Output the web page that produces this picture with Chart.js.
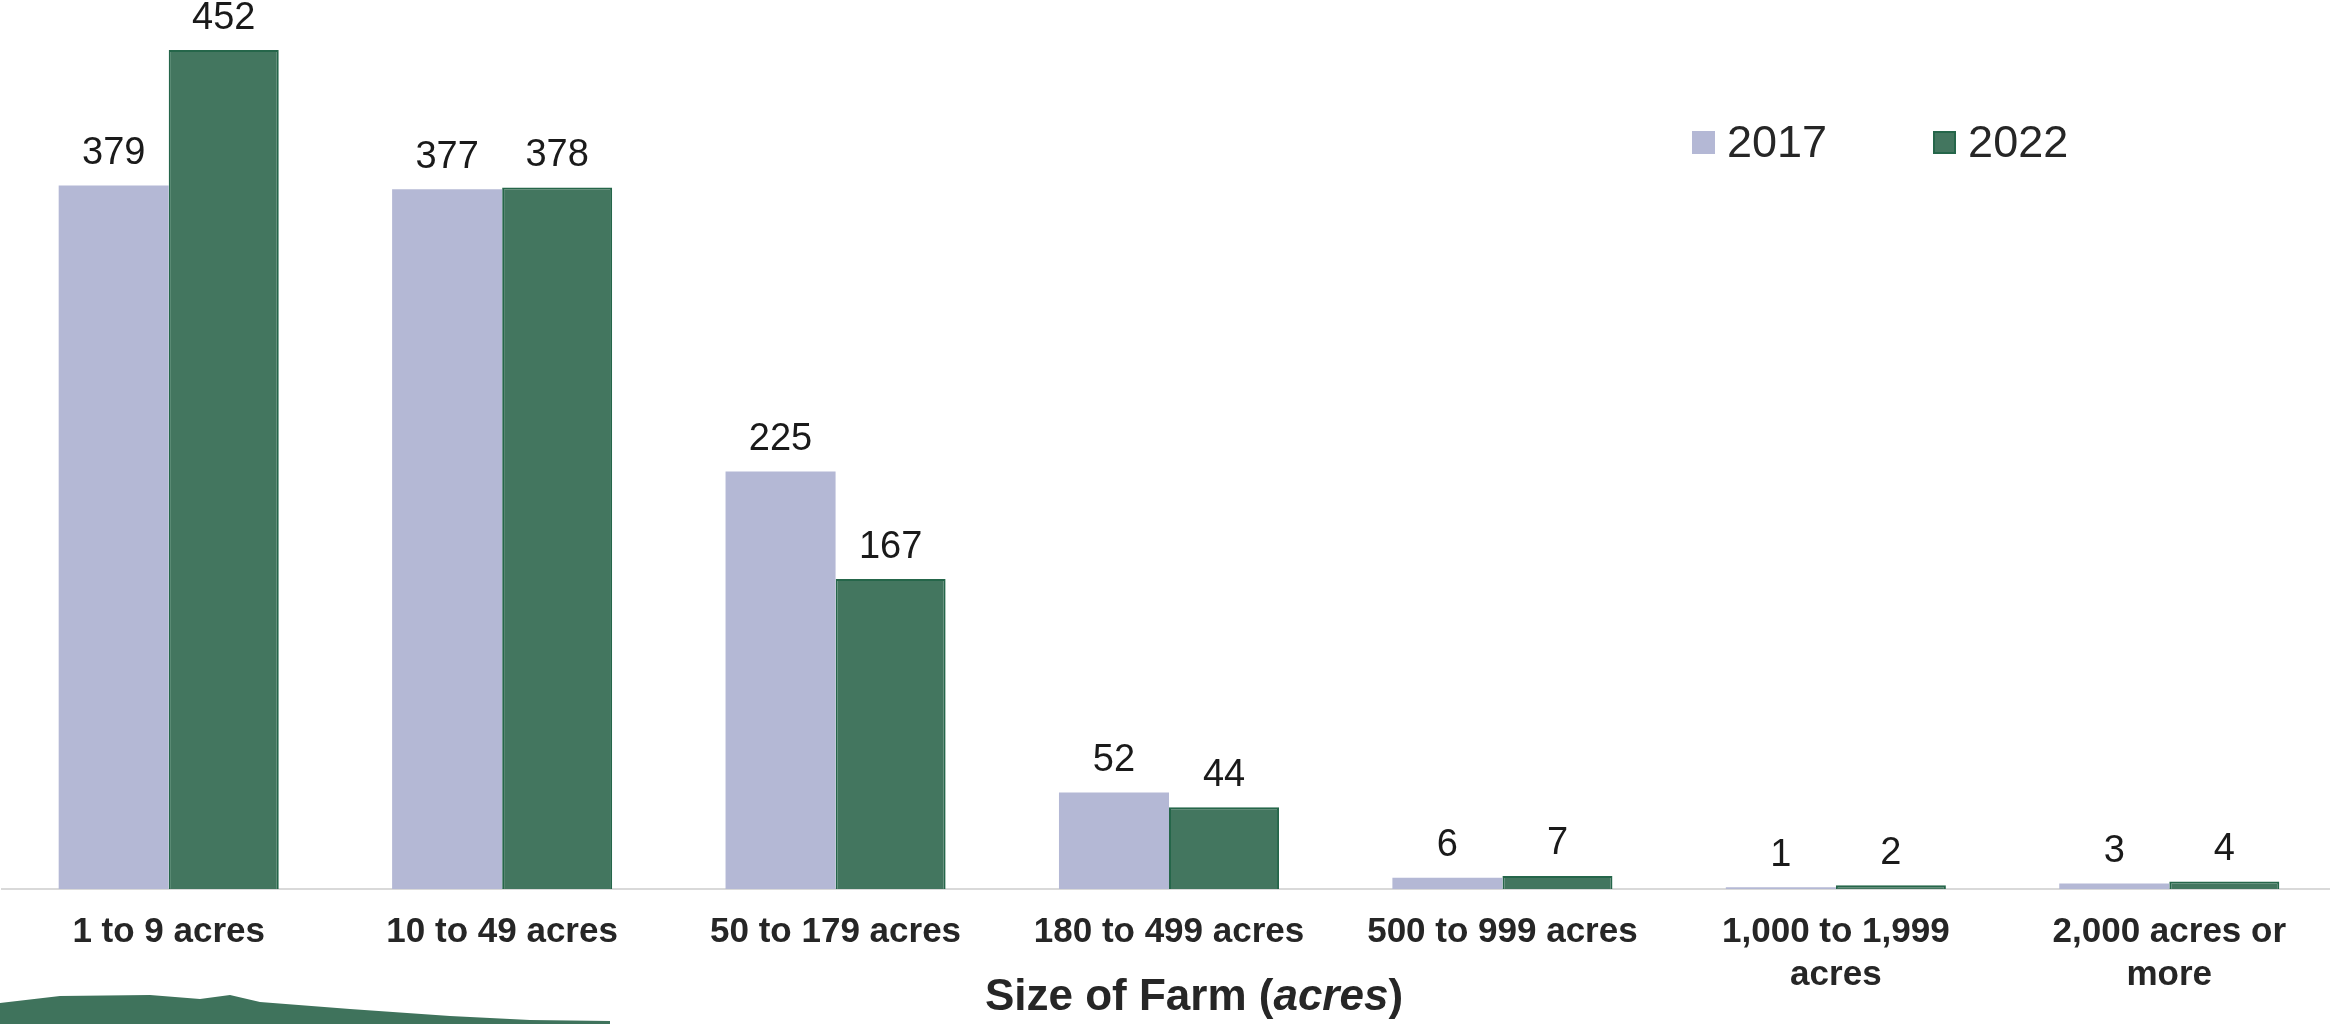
<!DOCTYPE html>
<html>
<head>
<meta charset="utf-8">
<script src="https://cdn.jsdelivr.net/npm/chart.js@4.4.1/dist/chart.umd.min.js"></script>
<style>
  body { margin: 0; background: #fff; overflow: hidden; }
  #wrap { position: relative; width: 2330px; height: 1024px; overflow: hidden; }
  #inner { position: absolute; left: 0; top: 0; width: 2336px; height: 1024px; }
  #legend { position: absolute; left: 1692px; top: 116px; display: flex; font-family: "Liberation Sans", Arial, sans-serif; font-size: 45px; color: #262626; }
  .item { display: flex; align-items: center; margin-right: 106px; }
  .box { width: 23px; height: 23px; margin-right: 12px; box-sizing: border-box; }
</style>
</head>
<body>
<div id="wrap">
  <div id="inner"><canvas id="myChart"></canvas></div>
  <div id="legend"></div>
</div>
<script>
var categories = ["1 to 9 acres", "10 to 49 acres", "50 to 179 acres", "180 to 499 acres", "500 to 999 acres", ["1,000 to 1,999", "acres"], ["2,000 acres or", "more"]];
var seriesNames = ["2017", "2022"];
var values2017 = [379, 377, 225, 52, 6, 1, 3];
var values2022 = [452, 378, 167, 44, 7, 2, 4];

var colors = ["#b4b8d5", "#43765f"];
var borders = ["#b4b8d5", "#25664a"];

// label angka di atas batang
var valueLabels = {
    id: "valueLabels",
    afterDatasetsDraw: function(chart) {
        var ctx = chart.ctx;
        ctx.save();
        ctx.font = "38px 'Liberation Sans', Arial, sans-serif";
        ctx.fillStyle = "#1a1a1a";
        ctx.textAlign = "center";
        ctx.textBaseline = "bottom";
        chart.data.datasets.forEach(function(ds, i) {
            chart.getDatasetMeta(i).data.forEach(function(bar, j) {
                ctx.fillText(ds.data[j], bar.x, bar.y - 13);
            });
        });
        ctx.restore();
    }
};

// judul sumbu x dengan kata "acres" miring + sapuan hijau di kiri bawah
var axisTitle = {
    id: "axisTitle",
    afterDraw: function(chart) {
        var ctx = chart.ctx;
        ctx.save();
        var parts = [
            ["Size of Farm (", "bold 44px 'Liberation Sans', Arial, sans-serif"],
            ["acres", "italic bold 44px 'Liberation Sans', Arial, sans-serif"],
            [")", "bold 44px 'Liberation Sans', Arial, sans-serif"]
        ];
        var total = 0;
        parts.forEach(function(p) { ctx.font = p[1]; total += ctx.measureText(p[0]).width; });
        var x = 1194 - total / 2;
        ctx.fillStyle = "#262626";
        ctx.textBaseline = "middle";
        parts.forEach(function(p) {
            ctx.font = p[1];
            ctx.fillText(p[0], x, 998);
            x += ctx.measureText(p[0]).width;
        });

        ctx.fillStyle = "#3f735c";
        ctx.beginPath();
        ctx.moveTo(0, 1003);
        ctx.lineTo(60, 996);
        ctx.lineTo(150, 995);
        ctx.lineTo(200, 999);
        ctx.lineTo(230, 995);
        ctx.lineTo(260, 1002);
        ctx.lineTo(350, 1009);
        ctx.lineTo(450, 1016);
        ctx.lineTo(530, 1020);
        ctx.lineTo(610, 1021);
        ctx.lineTo(610, 1024);
        ctx.lineTo(0, 1024);
        ctx.closePath();
        ctx.fill();
        ctx.restore();
    }
};

var ctx = document.getElementById("myChart").getContext("2d");
var chart = new Chart(ctx, {
    type: "bar",
    data: {
        labels: categories,
        datasets: [{
            label: seriesNames[0],
            data: values2017,
            backgroundColor: colors[0],
            borderColor: borders[0],
            borderWidth: 0
        }, {
            label: seriesNames[1],
            data: values2022,
            backgroundColor: colors[1],
            borderColor: borders[1],
            borderWidth: 2
        }]
    },
    options: {
        responsive: true,
        maintainAspectRatio: false,
        animation: false,
        layout: { padding: { left: 2, right: 0, top: 0, bottom: 0 } },
        datasets: { bar: { categoryPercentage: 0.66, barPercentage: 1 } },
        plugins: {
            legend: { display: false },
            tooltip: { enabled: false }
        },
        scales: {
            x: {
                grid: { display: false, drawTicks: false },
                border: { display: true, color: "#d9d9d9", width: 2 },
                ticks: {
                    padding: 22,
                    color: "#262626",
                    font: { family: "'Liberation Sans', Arial, sans-serif", size: 35, weight: "bold", lineHeight: 1.22 },
                    maxRotation: 0,
                    autoSkip: false
                },
                afterFit: function(scale) { scale.height = 135; }
            },
            y: {
                display: false,
                min: 0,
                max: 479
            }
        }
    },
    plugins: [valueLabels, axisTitle]
});

// legenda manual
var legend = document.getElementById("legend");
seriesNames.forEach(function(name, i) {
    var item = document.createElement("div");
    item.className = "item";
    var box = document.createElement("span");
    box.className = "box";
    box.style.background = colors[i];
    if (i === 1) box.style.border = "2px solid " + borders[i];
    var txt = document.createElement("span");
    txt.textContent = name;
    item.appendChild(box);
    item.appendChild(txt);
    legend.appendChild(item);
});
</script>
</body>
</html>
